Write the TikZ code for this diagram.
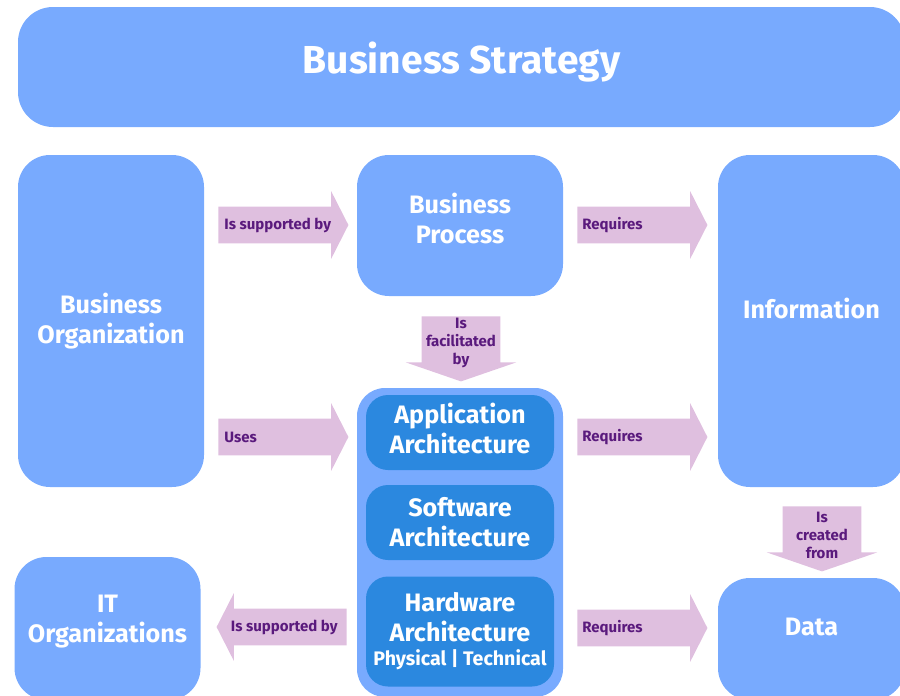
\documentclass[tikz,border=0pt]{standalone}
\usepackage{fontspec}
\setmainfont{Fira Sans}
\usetikzlibrary{shapes.arrows,calc}
\definecolor{boxblue}{HTML}{78AAFE}
\definecolor{deepblue}{HTML}{2B88DF}
\definecolor{arrowpink}{HTML}{DFBFDF}
\definecolor{arrowtext}{HTML}{5A1A7D}

\begin{document}
\begin{tikzpicture}[x=0.5pt,y=-0.5pt,
    box/.style={rectangle, rounded corners=16pt, fill=boxblue, text=white,
      font=\bfseries\fontsize{12.6}{15}\selectfont, align=center, inner sep=0pt},
    inner box/.style={box, fill=deepblue, rounded corners=11pt, minimum width=94pt},
    flow/.style={single arrow, fill=arrowpink, single arrow head indent=0pt},
    hflow/.style={flow, inner xsep=0pt, inner ysep=9pt, single arrow head extend=7.75pt,
      single arrow tip angle=126, minimum height=65pt},
    vflow/.style={flow, shape border rotate=270, inner xsep=19.5pt, inner ysep=0pt,
      single arrow head extend=8pt, single arrow tip angle=142, minimum height=32.5pt},
    lbl/.style={font=\bfseries\fontsize{7.5}{9}\selectfont, text=arrowtext, align=center, inner sep=0pt}]

  \useasboundingbox (0,0) rectangle (900,696);

  % boxes
  \node[box, rounded corners=17.5pt, minimum width=443.5pt, minimum height=60pt,
    font=\bfseries\fontsize{19.5}{22}\selectfont] (strat) at (461.5,67) {\raisebox{9pt}{Business Strategy}};
  \node[box, minimum width=93pt, minimum height=166pt] (org) at (111,321) {Business\\Organization};
  \node[box, minimum width=103pt, minimum height=70.5pt] (proc) at (460,225.5) {Business\\Process\\[-8pt]};
  \node[box, minimum width=93.5pt, minimum height=166pt] (info) at (811.5,321) {\raisebox{13pt}{Information}};
  \node[box, minimum width=93pt, minimum height=71.5pt] (itorg) at (107.5,628.5) {IT\\Organizations\\[-5pt]};
  \node[box, minimum width=93.5pt, minimum height=61pt] (data) at (811.5,639) {\raisebox{12pt}{Data}};

  % architecture stack
  \node[box, rounded corners=14pt, minimum width=103pt, minimum height=154.5pt] (arch) at (460,542.5) {};
  \node[inner box, minimum height=37.5pt] (app) at (460,432.5) {Application\\Architecture\\[-11pt]};
  \node[inner box, minimum height=37.5pt] (soft) at (460,522.5) {Software\\Architecture};
  \node[inner box, minimum height=55pt] (hard) at (460,631.5)
    {Hardware\\Architecture\\[-3pt]{\fontsize{9.8}{11}\selectfont Physical | Technical}\\[-12pt]};

  % arrows
  \node[hflow, anchor=tail] (supp) at (218,225) {};
  \node[hflow, anchor=tail] (req1) at (577,225) {};
  \node[vflow, anchor=tail] (facil) at (461,316) {};
  \node[hflow, anchor=tail] (uses) at (218,437) {};
  \node[hflow, anchor=tail] (req2) at (577,437) {};
  \node[vflow, anchor=tail] (creat) at (822,506) {};
  \node[hflow, shape border rotate=180, anchor=tail] (itsupp) at (347,627) {};
  \node[hflow, anchor=tail] (req3) at (577,628) {};

  \node[lbl, anchor=west] at ($(supp.tail)+(6,0)$) {Is supported by};
  \node[lbl, anchor=west] at ($(req1.tail)+(5,0)$) {Requires};
  \node[lbl] at (461,343) {Is\\facilitated\\by};
  \node[lbl, anchor=west] at ($(uses.tail)+(6,0)$) {Uses};
  \node[lbl, anchor=west] at ($(req2.tail)+(5,0)$) {Requires};
  \node[lbl] at (822,535) {Is\\created\\from};
  \node[lbl, anchor=east] at ($(itsupp.tail)+(-9,0)$) {Is supported by};
  \node[lbl, anchor=west] at ($(req3.tail)+(5,0)$) {Requires};
\end{tikzpicture}
\end{document}
